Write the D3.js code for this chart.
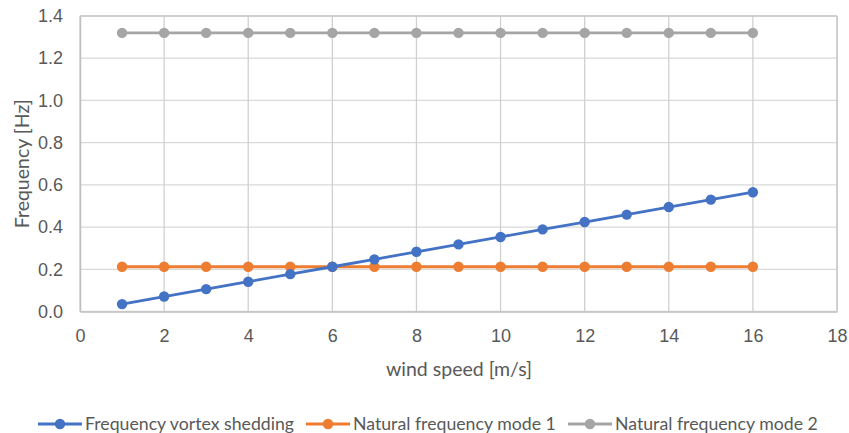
<!DOCTYPE html>
<html>
<head>
<meta charset="utf-8">
<script src="https://cdn.jsdelivr.net/npm/d3@7"></script>
<style>
  html, body { margin: 0; padding: 0; background: #fff; }
  svg { display: block; font-family: Lato, "Open Sans", sans-serif; }
</style>
</head>
<body>
<svg id="chart" width="849" height="433"></svg>
<script>
// Wind speed [m/s]
const windSpeed = [1, 2, 3, 4, 5, 6, 7, 8, 9, 10, 11, 12, 13, 14, 15, 16];
// Vortex shedding frequency [Hz]
const vortexShedding = [0.035, 0.071, 0.106, 0.141, 0.177, 0.212, 0.247, 0.283, 0.318, 0.353, 0.389, 0.424, 0.459, 0.495, 0.530, 0.565];
// Natural frequencies [Hz]
const naturalMode1 = [0.212, 0.212, 0.212, 0.212, 0.212, 0.212, 0.212, 0.212, 0.212, 0.212, 0.212, 0.212, 0.212, 0.212, 0.212, 0.212];
const naturalMode2 = [1.32, 1.32, 1.32, 1.32, 1.32, 1.32, 1.32, 1.32, 1.32, 1.32, 1.32, 1.32, 1.32, 1.32, 1.32, 1.32];
const seriesNames = ["Frequency vortex shedding", "Natural frequency mode 1", "Natural frequency mode 2"];
const seriesColors = ["#4472c4", "#ed7d31", "#a5a5a5"];
const xTicks = [0, 2, 4, 6, 8, 10, 12, 14, 16, 18];
const yTicks = [0.0, 0.2, 0.4, 0.6, 0.8, 1.0, 1.2, 1.4];

const svg = d3.select("#chart");
const plot = { left: 80, top: 16, right: 837, bottom: 311.5 };

const x = d3.scaleLinear().domain([0, 18]).range([plot.left, plot.right]);
const y = d3.scaleLinear().domain([0, 1.4]).range([plot.bottom, plot.top]);

// Gridlines
const grid = svg.append("g");
grid.selectAll("line.h").data(yTicks).join("line")
  .attr("x1", plot.left).attr("x2", plot.right)
  .attr("y1", d => y(d)).attr("y2", d => y(d))
  .attr("stroke", "#d9d9d9").attr("stroke-width", 1.3);
grid.selectAll("line.v").data(xTicks).join("line")
  .attr("y1", plot.top).attr("y2", plot.bottom)
  .attr("x1", d => x(d)).attr("x2", d => x(d))
  .attr("stroke", "#d0d0d0").attr("stroke-width", 1.3);

// Axes
const xAxis = svg.append("g").attr("transform", `translate(0,${plot.bottom})`)
  .call(d3.axisBottom(x).tickValues(xTicks).tickSize(0).tickPadding(18).tickFormat(d3.format("d")));
const yAxis = svg.append("g").attr("transform", `translate(${plot.left},0)`)
  .call(d3.axisLeft(y).tickValues(yTicks).tickSize(0).tickPadding(17).tickFormat(d3.format(".1f")));
[xAxis, yAxis].forEach(a => {
  a.select(".domain").attr("stroke", "#bfbfbf").attr("stroke-width", 1.5);
  a.selectAll("text").attr("fill", "#595959").style("font-size", "18px");
});
// Right and top frame
svg.append("line").attr("x1", plot.right).attr("x2", plot.right).attr("y1", plot.top).attr("y2", plot.bottom)
  .attr("stroke", "#c8c8c8").attr("stroke-width", 1.3);
svg.append("line").attr("x1", plot.left).attr("x2", plot.right).attr("y1", plot.top).attr("y2", plot.top)
  .attr("stroke", "#c8c8c8").attr("stroke-width", 1.3);

// Axis titles
svg.append("text").attr("x", 459).attr("y", 376)
  .attr("text-anchor", "middle").attr("fill", "#595959").style("font-size", "19.5px")
  .text("wind speed [m/s]");
svg.append("text").attr("transform", `translate(29,${(plot.top + plot.bottom) / 2}) rotate(-90)`)
  .attr("text-anchor", "middle").attr("fill", "#595959").style("font-size", "19.5px")
  .text("Frequency [Hz]");

// Series
const series = [vortexShedding, naturalMode1, naturalMode2];
const line = d3.line().x(d => x(d.x)).y(d => y(d.y));
[2, 1, 0].forEach(i => {
  const pts = windSpeed.map((w, j) => ({ x: w, y: series[i][j] }));
  const g = svg.append("g");
  g.append("path").datum(pts).attr("d", line)
    .attr("fill", "none").attr("stroke", seriesColors[i]).attr("stroke-width", 2.8);
  g.selectAll("circle").data(pts).join("circle")
    .attr("cx", d => x(d.x)).attr("cy", d => y(d.y)).attr("r", 5.2)
    .attr("fill", seriesColors[i]);
});

// Legend
const legendItems = [
  { x0: 38, name: seriesNames[0], color: seriesColors[0] },
  { x0: 306, name: seriesNames[1], color: seriesColors[1] },
  { x0: 568, name: seriesNames[2], color: seriesColors[2] }
];
const ly = 424;
const lg = svg.append("g");
legendItems.forEach(it => {
  lg.append("line").attr("x1", it.x0).attr("x2", it.x0 + 44).attr("y1", ly).attr("y2", ly)
    .attr("stroke", it.color).attr("stroke-width", 2.8);
  lg.append("circle").attr("cx", it.x0 + 22).attr("cy", ly).attr("r", 5.2).attr("fill", it.color);
  lg.append("text").attr("x", it.x0 + 47).attr("y", ly + 6).attr("fill", "#595959")
    .style("font-size", "17.7px").text(it.name);
});
</script>
</body>
</html>
